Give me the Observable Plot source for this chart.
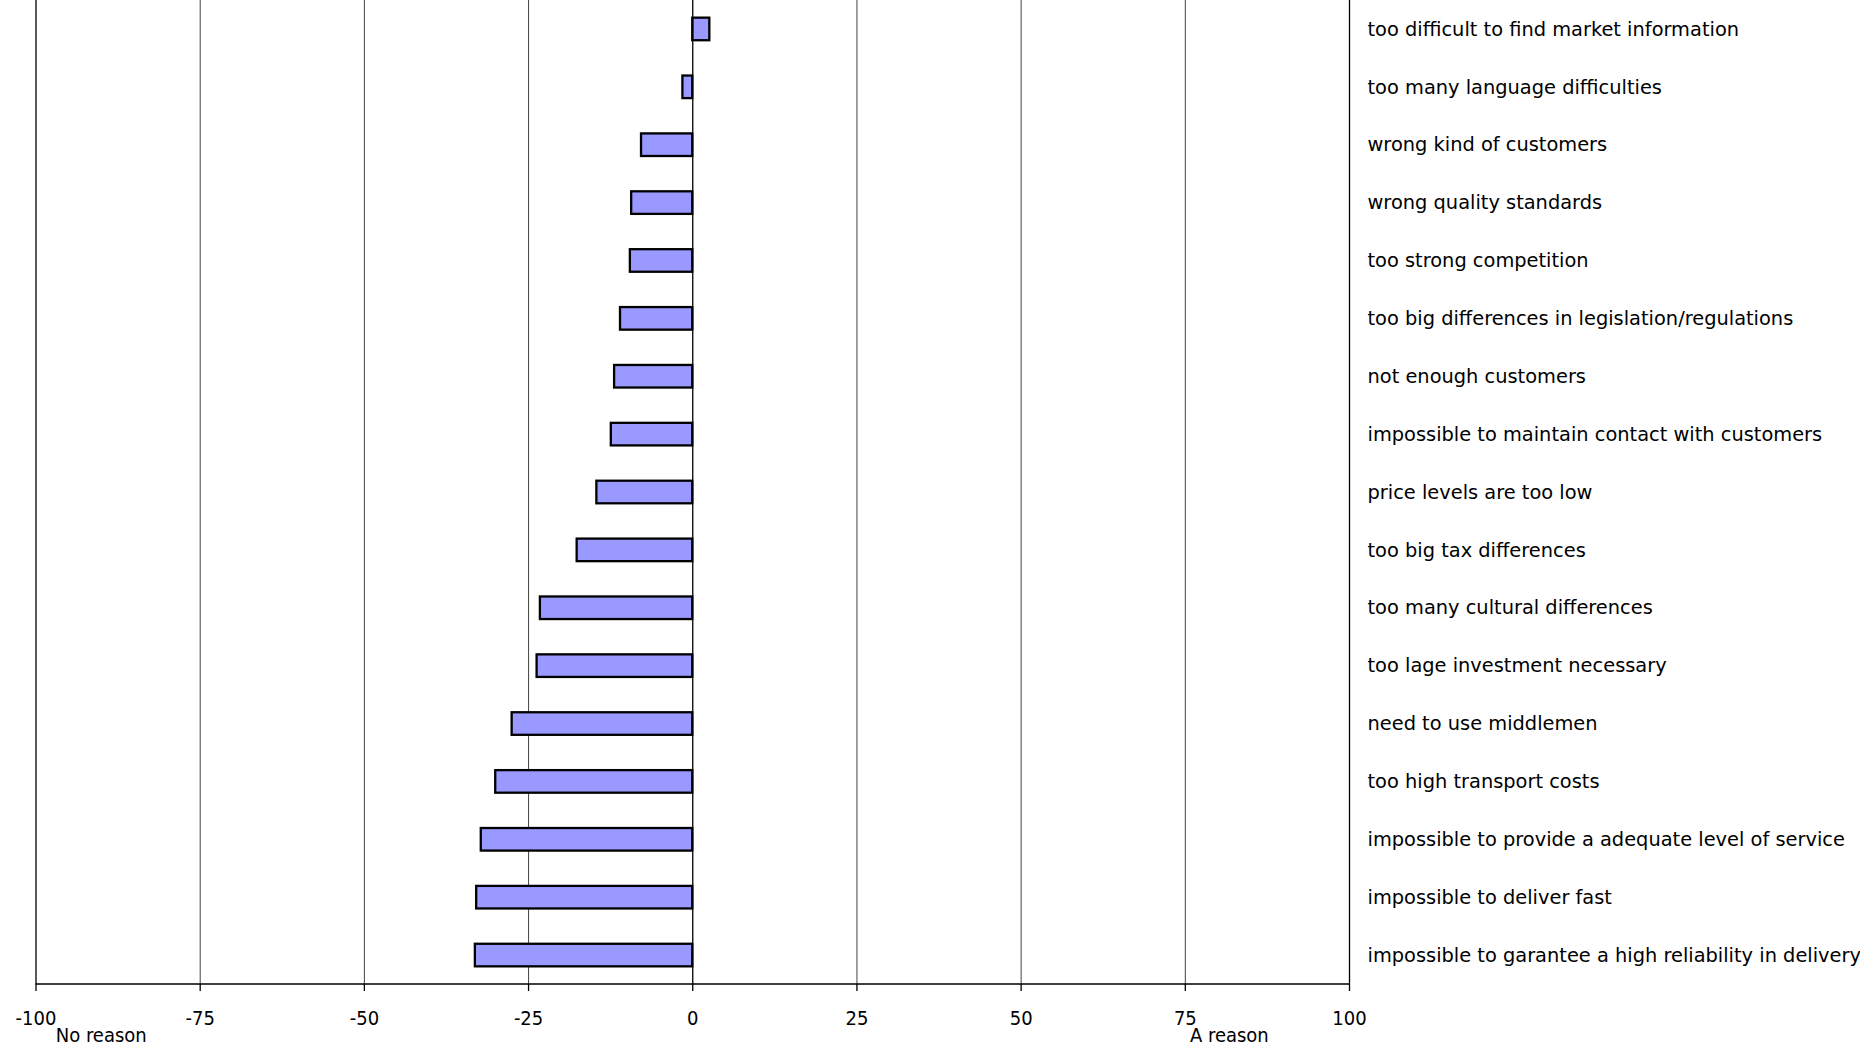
<!DOCTYPE html>
<html>
<head>
<meta charset="utf-8">
<script src="https://cdn.jsdelivr.net/npm/d3@7"></script>
<script src="https://cdn.jsdelivr.net/npm/@observablehq/plot@0.6"></script>
<style>
  html, body { margin: 0; padding: 0; background: #fff; overflow: hidden; }
  #chart svg { display: block; }
</style>
</head>
<body>
<div id="chart"></div>
<script>
const reasons = [
  "too difficult to find market information",
  "too many language difficulties",
  "wrong kind of customers",
  "wrong quality standards",
  "too strong competition",
  "too big differences in legislation/regulations",
  "not enough customers",
  "impossible to maintain contact with customers",
  "price levels are too low",
  "too big tax differences",
  "too many cultural differences",
  "too lage investment necessary",
  "need to use middlemen",
  "too high transport costs",
  "impossible to provide a adequate level of service",
  "impossible to deliver fast",
  "impossible to garantee a high reliability in delivery"
];
const scores = [2.6, -1.5, -7.8, -9.3, -9.5, -11.0, -11.9, -12.4, -14.6, -17.6, -23.2, -23.7, -27.5, -30.0, -32.2, -32.9, -33.1];
const tickValues = [-100, -75, -50, -25, 0, 25, 50, 75, 100];
const gridValues = [-75, -50, -25, 25, 50, 75];
const edgeValues = [-100, 100];
const endLabels = ["No reason", "A reason"];
const endLabelX = [-97, 75.7];

const data = reasons.map((r, i) => ({reason: r, value: scores[i]}));
const notes = endLabels.map((t, i) => ({text: t, x: endLabelX[i]}));

const FONT = "'DejaVu Sans Condensed', 'DejaVu Sans', sans-serif";
const LABEL_FONT = "'DejaVu Sans', sans-serif";

const chart = Plot.plot({
  width: 1860,
  height: 1048,
  marginLeft: 35.5,
  marginRight: 511,
  marginTop: 0,
  marginBottom: 64,
  style: {fontFamily: FONT, fontSize: "20px", color: "#000", background: "#fff"},
  x: {domain: [-100, 100], axis: null},
  y: {domain: reasons, axis: null, paddingInner: 0.61, paddingOuter: 0.305, round: false},
  marks: [
    Plot.ruleX(gridValues, {stroke: "#444", strokeWidth: 1}),
    Plot.ruleX(edgeValues, {stroke: "#000", strokeWidth: 1.3}),
    Plot.barX(data, {x1: () => 0, x2: "value", y: "reason", fill: "#9999ff", stroke: "#000", strokeWidth: 2.3}),
    Plot.ruleX([0], {stroke: "#000", strokeWidth: 1.3}),
    Plot.axisX({ticks: tickValues, tickSize: 7, tickPadding: 19, fontSize: 20, stroke: "#000", strokeWidth: 1.3, tickFormat: d => String(d).replace("−", "-"), fill: "#000"}),
    (index, scales, values, dims) => {
      const y = dims.height - dims.marginBottom;
      const g = d3.create("svg:g");
      g.append("line")
        .attr("x1", scales.x(-100)).attr("x2", scales.x(100))
        .attr("y1", y).attr("y2", y)
        .attr("stroke", "#000").attr("stroke-width", 1.5);
      return g.node();
    },
    Plot.text(data, {y: "reason", text: "reason", frameAnchor: "right", textAnchor: "start", dx: 18, fontSize: 19.4, fontFamily: LABEL_FONT, fill: "#000"}),
    Plot.text(notes, {x: "x", text: "text", frameAnchor: "bottom", textAnchor: "start", dy: 57.5, fontSize: 20, fill: "#000"})
  ]
});
document.getElementById("chart").appendChild(chart);
</script>
</body>
</html>
